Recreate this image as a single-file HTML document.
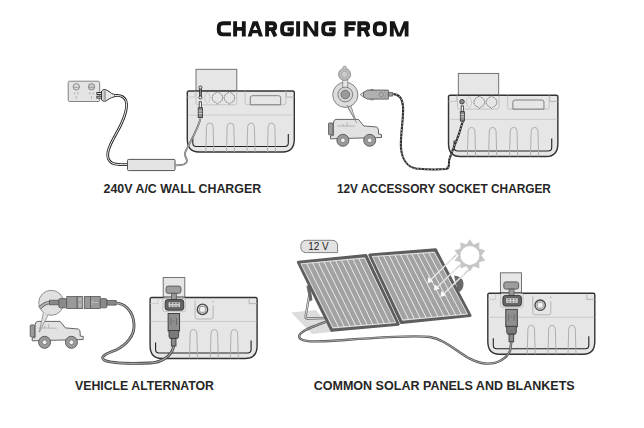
<!DOCTYPE html>
<html><head><meta charset="utf-8">
<style>
html,body{margin:0;padding:0;background:#fff;width:644px;height:428px;overflow:hidden}
svg{display:block}
.t{font-family:"Liberation Sans",sans-serif;font-weight:bold}
</style></head>
<body>
<svg width="644" height="428" viewBox="0 0 644 428">
<defs>
  <!-- common battery box body, origin at box top-left -->
  <g id="body">
    <path d="M0.5,1.5 Q0.5,0 2,0 L106,0 Q107.5,0 107.5,1.5 L107.5,48 Q107.5,61 96,61 L12,61 Q0.5,61 0.5,48 Z" fill="#e6e6e7" stroke="#333" stroke-width="1.4"/>
    <line x1="1" y1="24" x2="107" y2="24" stroke="#c4c4c4" stroke-width="0.8"/>
    <path d="M6,45 L6,52 Q6,55.5 9.5,55.5 L98,55.5 Q101.5,55.5 101.5,52 L101.5,43" fill="none" stroke="#222" stroke-width="1.1"/>
    <path d="M99.5,0.5 L99.5,6.1 L107.5,6.1" fill="none" stroke="#aaa" stroke-width="0.8"/>
    <path d="M0.5,6.1 L8.3,6.1 L8.3,0.5" fill="none" stroke="#c4c4c4" stroke-width="0.8"/>
  </g>
  <g id="slots">
    <path d="M-4,29 L-3.3,3.5 Q-3,0 0,0 Q3,0 3.3,3.5 L4,29" fill="none" stroke="#a8a8a8" stroke-width="0.9"/>
  </g>
  <g id="sock">
    <path d="M0,-6.3 L1.6,-4.8 A5,5 0 0 1 1.6,4.8 L0,6.3 L-1.6,4.8 A5,5 0 0 1 -1.6,-4.8 Z" fill="none" stroke="#6a6a6a" stroke-width="0.9" stroke-dasharray="1.3 0.5"/>
  </g>
  <g id="upper">
    <use href="#body"/>
    <use href="#slots" x="23" y="32"/>
    <use href="#slots" x="43.7" y="32"/>
    <use href="#slots" x="64.2" y="32"/>
    <use href="#slots" x="84.7" y="32"/>
    <path d="M9.3,0.2 L9.3,12 Q9.3,13.8 11.1,13.8 L48.1,13.8 Q49.9,13.8 49.9,12 L49.9,0.2" fill="none" stroke="#bdbdbd" stroke-width="0.8"/>
    <path d="M20.5,1.3 L22.2,3 Q24,6.8 22.2,10.6 L20.5,12.3 L18.8,10.6 Q17,6.8 18.8,3 Z" fill="none" stroke="#b0b0b0" stroke-width="0.8" stroke-dasharray="1.2 0.5"/>
    <use href="#sock" x="30.6" y="6.8"/>
    <use href="#sock" x="42.6" y="6.8"/>
    <path d="M58.3,0.2 L58.3,12 Q58.3,13.8 60.1,13.8 L97.2,13.8 Q99,13.8 99,12 L99,0.2" fill="none" stroke="#bdbdbd" stroke-width="0.8"/>
    <path d="M63.5,13.8 L63.5,6.8 Q63.5,4.7 65.6,4.7 L91.8,4.7 Q93.9,4.7 93.9,6.8 L93.9,13.8 Z" fill="none" stroke="#777" stroke-width="0.9"/>
  </g>
  <g id="lower">
    <use href="#body"/>
    <use href="#slots" x="43.9" y="32"/>
    <use href="#slots" x="64.7" y="32"/>
    <use href="#slots" x="84.7" y="32"/>
    <rect x="13.3" y="0.1" width="22.4" height="14" rx="1.5" fill="none" stroke="#bbb" stroke-width="0.8"/>
    <path d="M45.5,3 L45.5,19.5 Q45.5,21.5 47.5,21.5 L61.5,21.5 Q63.5,21.5 63.5,19.5 L63.5,8 M63.5,5 L63.5,3" fill="none" stroke="#aaa" stroke-width="0.8"/>
  </g>
</defs>

<!-- TITLE -->
<g id="title"><path d="M230.9,23.2 L223.0,23.2 Q218.8,23.2 218.8,27.4 L218.8,30.2 Q218.8,34.4 223.0,34.4 L230.9,34.4 M235.1,21.3 L235.1,36.4 M243.8,21.3 L243.8,36.4 M235.1,28.9 L243.8,28.9 M267.1,36.4 L267.1,23.2 L272.0,23.2 Q275.2,23.2 275.2,26.4 L275.2,26.4 Q275.2,29.1 272.0,29.1 L267.1,29.1 M272.0,29.1 L275.5,36.4 M293.8,23.2 L286.3,23.2 Q282.1,23.2 282.1,27.4 L282.1,30.2 Q282.1,34.4 286.3,34.4 L289.9,34.4 Q291.9,34.4 291.9,32.4 L291.9,29.2 L287.5,29.2 M298.1,21.3 L298.1,36.4 M335.6,23.2 L327.4,23.2 Q323.2,23.2 323.2,27.4 L323.2,30.2 Q323.2,34.4 327.4,34.4 L331.7,34.4 Q333.7,34.4 333.7,32.4 L333.7,29.2 L329.0,29.2 M346.4,36.4 L346.4,23.2 L355.8,23.2 M346.4,28.9 L354.6,28.9 M359.3,36.4 L359.3,23.2 L365.0,23.2 Q368.2,23.2 368.2,26.4 L368.2,26.4 Q368.2,29.1 365.0,29.1 L359.3,29.1 M365.0,29.1 L368.5,36.4 M378.9,23.2 L380.7,23.2 Q384.9,23.2 384.9,27.4 L384.9,30.2 Q384.9,34.4 380.7,34.4 L378.9,34.4 Q374.8,34.4 374.8,30.2 L374.8,27.4 Q374.8,23.2 378.9,23.2 Z" fill="none" stroke="#161616" stroke-width="3.9" stroke-linejoin="miter"/><path d="M247.6,36.4 L252.7,21.3 L257.9,21.3 L262.9,36.4 L258.9,36.4 L257.9,33.2 L252.6,33.2 L251.6,36.4 Z M255.2,25.3 L257.6,30.0 L252.9,30.0 Z M303.5,36.4 L303.5,21.3 L307.5,21.3 L314.4,31.4 L314.4,21.3 L318.2,21.3 L318.2,36.4 L314.2,36.4 L307.3,26.3 L307.3,36.4 Z M389.9,36.4 L389.9,21.3 L394.5,21.3 L399.2,33.2 L403.9,21.3 L408.5,21.3 L408.5,36.4 L404.7,36.4 L404.7,27.8 L401.2,36.4 L397.2,36.4 L393.7,27.8 L393.7,36.4 Z" fill="#161616" fill-rule="evenodd"/></g>

<!-- CAPTIONS -->
<text class="t" x="103.6" y="193.1" font-size="12.5" textLength="157.5" lengthAdjust="spacingAndGlyphs" fill="#262626">240V A/C WALL CHARGER</text>
<text class="t" x="336.9" y="193.1" font-size="12.5" textLength="214" lengthAdjust="spacingAndGlyphs" fill="#262626">12V ACCESSORY SOCKET CHARGER</text>
<text class="t" x="75" y="390" font-size="12.5" textLength="139" lengthAdjust="spacingAndGlyphs" fill="#262626">VEHICLE ALTERNATOR</text>
<text class="t" x="313.7" y="390" font-size="12.5" textLength="261" lengthAdjust="spacingAndGlyphs" fill="#262626">COMMON SOLAR PANELS AND BLANKETS</text>

<!-- ============ SECTION 1: WALL CHARGER ============ -->
<g>
  <!-- outlet -->
  <rect x="68.2" y="81.2" width="31.5" height="20.3" rx="1.5" fill="#e4e4e4" stroke="#777" stroke-width="0.9"/>
  <circle cx="76.3" cy="86.8" r="3.2" fill="#ddd" stroke="#777" stroke-width="0.8"/>
  <circle cx="91.5" cy="86.8" r="3.2" fill="#ccc" stroke="#777" stroke-width="0.8"/>
  <path d="M73.3,87.3 L79.3,87.3 M88.5,87.3 L94.5,87.3" stroke="#888" stroke-width="0.7"/>
  <g stroke="#888" stroke-width="0.7">
    <line x1="74.6" y1="92.5" x2="74.6" y2="94.3"/><line x1="78" y1="92.5" x2="78" y2="94.3"/><line x1="76.3" y1="96.5" x2="76.3" y2="98.5"/>
    <line x1="89.8" y1="92.5" x2="89.8" y2="94.3"/><line x1="93.2" y1="92.5" x2="93.2" y2="94.3"/><line x1="91.5" y1="96.5" x2="91.5" y2="98.5"/>
  </g>
  <!-- plug -->
  <g stroke="#222" stroke-width="0.9" fill="#e8e8e8">
    <rect x="96.9" y="92.5" width="5" height="1.9"/>
    <rect x="96.9" y="96.2" width="5" height="1.9"/>
    <path d="M101.6,91 Q102.5,89.3 105.5,89.5 L109,91.5 Q111,93.5 114.5,94.6 L115.3,96.5 Q111,97.5 109,99 L105.5,101.2 Q102.5,101.5 101.6,100 Z"/>
    <rect x="103.5" y="90.5" width="2.5" height="10.3" fill="#a8a8a8" stroke="none"/>
  </g>
  <!-- cable plug->adapter -->
  <path d="M114.5,95.6 C119,95 124,96 126,101 C128,108 124,120 116,134 C108,148 104,158 112,163 C116,165 122,164.6 127.5,164.6" fill="none" stroke="#262626" stroke-width="2.7"/>
  <path d="M114.5,95.6 C119,95 124,96 126,101 C128,108 124,120 116,134 C108,148 104,158 112,163 C116,165 122,164.6 127.5,164.6" fill="none" stroke="#f2f2f2" stroke-width="1"/>
  <!-- adapter -->
  <rect x="127.5" y="159.4" width="47.5" height="11.2" rx="1" fill="#e4e4e5" stroke="#555" stroke-width="1"/>
  <!-- box 1 -->
  <rect x="196" y="69.3" width="40.8" height="21.7" fill="#e6e6e7" stroke="#666" stroke-width="0.9"/>
  <use href="#upper" x="186.8" y="91"/>
  <!-- thin cable adapter -> box -->
  <path d="M175,165.4 C181,165.4 187,165 187,161 C187,158 184,156 185,153 C187,147 197,132 200.5,118.5" fill="none" stroke="#555" stroke-width="1.8"/>
  <path d="M175,165.4 C181,165.4 187,165 187,161 C187,158 184,156 185,153 C187,147 197,132 200.5,118.5" fill="none" stroke="#ddd" stroke-width="0.7"/>

  <!-- dc connector box1 -->
  <g stroke="#333" stroke-width="0.8">
    <rect x="199.4" y="87" width="2" height="11" fill="#888"/>
    <circle cx="200.4" cy="87.5" r="1.6" fill="#ddd"/>
    <circle cx="200.4" cy="97.5" r="1.6" fill="#ddd"/>
    <rect x="199.2" y="101.8" width="2.3" height="6" fill="#f4f4f4"/>
    <rect x="198.2" y="107.8" width="4.4" height="9.8" fill="#8a8a8a"/>
    <path d="M198.6,111 L202.2,111 M198.6,113.5 L202.2,113.5" stroke="#ddd" stroke-width="0.7"/>
  </g>
</g>

<!-- ============ SECTION 2: 12V SOCKET ============ -->
<g>
  <!-- socket bubble -->
  <path d="M347,106 L356.7,123 L350.5,105" fill="#ddd" stroke="#777" stroke-width="0.8"/>
  <circle cx="345.3" cy="94.8" r="12.6" fill="#dcdcdc" stroke="#777" stroke-width="0.9"/>
  <rect x="342.8" y="79" width="5" height="10" fill="#e4e4e4" stroke="#777" stroke-width="0.7"/>
  <circle cx="345.3" cy="94.5" r="7.4" fill="#d4d4d4" stroke="#777" stroke-width="0.9"/>
  <circle cx="345.3" cy="94.5" r="4.3" fill="#9a9a9a" stroke="#666" stroke-width="0.8"/>
  <circle cx="344.6" cy="74.4" r="6" fill="#bdbdbd" stroke="#888" stroke-width="0.9"/>
  <circle cx="344.6" cy="74.4" r="3.2" fill="#ccc" stroke="#999" stroke-width="0.6"/>
  <path d="M342.5,68.5 L343.5,66.3 L345.8,66.3 L346.8,68.5" fill="#ccc" stroke="#888" stroke-width="0.7"/>
  <!-- car -->
  <g id="car">
    <rect x="328.5" y="122.9" width="4.6" height="12" rx="0.8" fill="#9a9a9a" stroke="#555" stroke-width="0.8"/>
    <path d="M333.4,123 Q333.6,119.6 336,119.4 L358.5,119.4 L363.7,125.9 L376.5,127 Q378.5,127.5 378.5,131 L378.5,134 L381.5,134.5 L381.5,137.5 L330.5,138.8 L330.5,135.8 L333.4,135.6 Z" fill="#e2e2e3" stroke="#555" stroke-width="0.9"/>
    <path d="M337,126 L355,126.2 M347,122.5 L347,126 M343,124 L343,126" fill="none" stroke="#999" stroke-width="0.6"/>
    <circle cx="342.9" cy="140.3" r="6" fill="#9a9a9a" stroke="#555" stroke-width="0.9"/>
    <circle cx="342.9" cy="140.3" r="2.3" fill="#f2f2f2" stroke="#666" stroke-width="0.6"/>
    <circle cx="369.7" cy="140.3" r="6" fill="#9a9a9a" stroke="#555" stroke-width="0.9"/>
    <circle cx="369.7" cy="140.3" r="2.3" fill="#f2f2f2" stroke="#666" stroke-width="0.6"/>
  </g>
  <path d="M347,105 L356.7,123" stroke="#888" stroke-width="0.8"/>
  <!-- cig plug -->
  <path d="M360.1,94.6 L363.5,92 L363.5,97.2 Z" fill="#d4d4d4" stroke="#777" stroke-width="0.7"/>
  <path d="M363.5,92.3 L367.5,90.1 L388.3,90.1 L388.3,99.1 L367.5,99.1 L363.5,96.9 Z" fill="#b0b0b0" stroke="#5a5a5a" stroke-width="0.9"/>
  <rect x="370.5" y="89" width="3.2" height="1.2" fill="#777"/>
  <rect x="370.5" y="99" width="3.2" height="1.2" fill="#777"/>
  <circle cx="381.3" cy="94.6" r="2.2" fill="none" stroke="#777" stroke-width="0.7"/>
  <path d="M384.5,91 Q386.8,94.6 384.5,98.2" fill="none" stroke="#888" stroke-width="0.6"/>
  <rect x="388.3" y="92.3" width="4.3" height="3.8" fill="#999" stroke="#555" stroke-width="0.7"/>
  <!-- box 2 -->
  <rect x="458.3" y="73.4" width="40.4" height="21.9" fill="#e6e6e7" stroke="#666" stroke-width="0.9"/>
  <use href="#upper" transform="translate(448,95.3) scale(1.022,1.003)"/>
  <!-- cable -->
  <path d="M392.5,94 C397,94 402,96 403,106 C404,118 400,135 401,148 C402,160 408,167 416,168.5 C426,169.5 440,169.5 446,169 C450,168 449,163 449,160.8 C451,152 459,137 461,127 L463,121" fill="none" stroke="#262626" stroke-width="2.1"/>
  <path d="M392.5,94 C397,94 402,96 403,106 C404,118 400,135 401,148 C402,160 408,167 416,168.5 C426,169.5 440,169.5 446,169 C450,168 449,163 449,160.8 C451,152 459,137 461,127 L463,121" fill="none" stroke="#f0f0f0" stroke-width="0.7" stroke-dasharray="1.6 1.8"/>

  <g stroke="#333" stroke-width="0.8">
    <circle cx="462" cy="101.7" r="2.3" fill="#888"/>
    <rect x="461.2" y="105.9" width="2.3" height="5.8" fill="#f4f4f4"/>
    <rect x="460.3" y="111.7" width="4.2" height="9.3" fill="#8a8a8a"/>
    <path d="M460.7,114.5 L464.1,114.5 M460.7,117 L464.1,117" stroke="#ddd" stroke-width="0.7"/>
  </g>
</g>

<!-- ============ SECTION 3: ALTERNATOR ============ -->
<g>
  <g transform="translate(-298.3,202)">
    <use href="#car"/>
  </g>
  <path d="M43.5,312 L39.3,332.2 L48.3,314.5" fill="#e0e0e0" stroke="#888" stroke-width="0.8"/>
  <circle cx="51.2" cy="302.8" r="12.5" fill="#e0e0e1" stroke="#888" stroke-width="0.9"/>
  <path d="M43.6,313 L47.6,314.2" stroke="#e0e0e1" stroke-width="1.6"/>
  <!-- cable inside bubble -->
  <path d="M39.5,308 C43,304.5 46,302.5 50,302.5" fill="none" stroke="#555" stroke-width="3.6"/>
  <path d="M39.5,308 C43,304.5 46,302.5 50,302.5" fill="none" stroke="#b4b4b4" stroke-width="2"/>
  <!-- connectors -->
  <g stroke="#555" stroke-width="0.8">
    <rect x="49.5" y="300.2" width="9.3" height="4.6" fill="#888"/>
    <rect x="58.8" y="298.6" width="7.9" height="9.2" rx="1.5" fill="#8a8a8a"/>
    <rect x="66.7" y="296.6" width="10.5" height="11.9" fill="#999"/>
    <rect x="77.2" y="296.6" width="5.6" height="11.9" fill="#a6a6a6"/>
    <rect x="84.5" y="296.6" width="5.9" height="11.9" fill="#999"/>
    <rect x="90.4" y="296.6" width="9.9" height="11.9" fill="#999"/>
    <rect x="100.3" y="298.6" width="6.7" height="9.2" rx="1.5" fill="#8a8a8a"/>
    <rect x="107" y="300.5" width="9" height="4.6" fill="#888"/>
  </g>
  <path d="M79,300 L80,299 L81,300 M80,304 L80,306" stroke="#eee" stroke-width="0.6" fill="none"/>
  <path d="M93,302.5 L98,302.5 M92,300 L92,305" stroke="#ccc" stroke-width="0.7" fill="none"/>
  <!-- box 3 -->
  <rect x="163.2" y="277.5" width="21.6" height="19.6" fill="#e6e6e7" stroke="#666" stroke-width="0.9"/>
  <use href="#lower" x="149.6" y="297.5"/>
  <!-- cable to box -->
  <path d="M115,302.8 C124,303 133,310 134,324 C135,336 126,345 116,350 C105,354 100,357 104,360 C110,363.5 135,363.5 150,363 C160,362.6 172,357 173.7,346" fill="none" stroke="#444" stroke-width="2.8"/>
  <path d="M115,302.8 C124,303 133,310 134,324 C135,336 126,345 116,350 C105,354 100,357 104,360 C110,363.5 135,363.5 150,363 C160,362.6 172,357 173.7,346" fill="none" stroke="#a8a8a8" stroke-width="1.2"/>

  <g id="anderson">
    <rect x="166.1" y="286.1" width="14.8" height="7.2" rx="2" fill="#9d9d9d" stroke="#555" stroke-width="0.9"/>
    <rect x="171.4" y="293.3" width="4.9" height="6.3" fill="#999" stroke="#555" stroke-width="0.8"/>
    <rect x="165.2" y="299.6" width="18.5" height="10.6" rx="2.5" fill="#666" stroke="#333" stroke-width="0.9"/>
    <rect x="168.1" y="302" width="12.3" height="5.7" fill="#d0d0d0" stroke="#444" stroke-width="0.6"/>
    <path d="M170,303.5 L172,303.5 M173.3,303.5 L175.3,303.5 M176.6,303.5 L178.6,303.5 M170,306 L172,306 M173.3,306 L175.3,306 M176.6,306 L178.6,306" stroke="#555" stroke-width="0.8"/>
    <rect x="168.1" y="313.5" width="11.5" height="17.5" fill="#8f8f8f" stroke="#333" stroke-width="0.9"/>
    <path d="M169,330.5 L178.6,330.5 L178.6,336.5 L177.7,338.4 L169.9,338.4 L169,336.5 Z" fill="#7a7a7a" stroke="#333" stroke-width="0.8"/>
    <rect x="171.3" y="338.4" width="4.7" height="7.6" fill="#8a8a8a" stroke="#333" stroke-width="0.8"/>
    <path d="M171,318 L171,325 M176.5,318 L176.5,325 M173,321 L174.5,321" stroke="#555" stroke-width="0.6"/>
    <circle cx="202.5" cy="309.4" r="5.2" fill="#d8d8d8" stroke="#444" stroke-width="1.3"/>
    <rect x="199.6" y="306.5" width="5.8" height="5.8" rx="1.6" fill="#f2f2f2" stroke="#777" stroke-width="0.7"/>
  </g>
</g>

<!-- ============ SECTION 4: SOLAR ============ -->
<g>
  <!-- 12V label -->
  <path d="M306.5,240.3 L332,240.3 Q337.6,240.3 337.6,246 L337.6,252.6 L333,252.6 Q330,252.6 306.5,252.6 Q300.8,252.6 300.8,246.5 Q300.8,240.3 306.5,240.3 Z" fill="#e2e2e2" stroke="#666" stroke-width="0.8"/>
  <text x="308.2" y="250.3" font-size="10.5" style="font-family:'Liberation Sans',sans-serif" fill="#222" textLength="20.5" lengthAdjust="spacingAndGlyphs">12 V</text>
  <!-- shadow -->
  <path d="M291.2,312.4 L316,310 L333,331.8 L312,334 Z" fill="#dcdcdc"/>
  <!-- stand -->
  <path d="M309.8,292 L305.6,316.5 Q305.2,318.5 307.5,318.5 L325,318" fill="none" stroke="#666" stroke-width="2.3"/>
  <path d="M309.8,292 L305.6,316.5 Q305.2,318.5 307.5,318.5 L325,318" fill="none" stroke="#e8e8e8" stroke-width="0.9"/>
  <path d="M306.5,286 L310,284.5 L312.5,300 L309.5,301.5 Z" fill="#666"/>
  <!-- panel 2 -->
<path d="M454,275.5 Q462.5,276 463.5,283 Q464,290 458,292.5 Z" fill="#6a6a6a"/>
<path d="M369.8,255.0 L435.5,249.8 L470.0,315.5 L401.4,322.6 Z" fill="#a2a2a3" stroke="#5e5e5e" stroke-width="3" stroke-linejoin="round"/>
<path d="M372.3,256.5 L434.3,252.4 L467.5,314.0 L402.7,320.0 Z" fill="none" stroke="#f4f4f4" stroke-width="0.8"/>
<g stroke="#f4f4f4" stroke-width="0.9">
<line x1="377.9" y1="256.2" x2="408.6" y2="319.4"/>
<line x1="383.5" y1="255.8" x2="414.4" y2="318.9"/>
<line x1="389.2" y1="255.4" x2="420.3" y2="318.4"/>
<line x1="394.8" y1="255.0" x2="426.2" y2="317.8"/>
<line x1="400.5" y1="254.7" x2="432.1" y2="317.3"/>
<line x1="406.1" y1="254.3" x2="438.0" y2="316.7"/>
<line x1="411.7" y1="253.9" x2="443.9" y2="316.2"/>
<line x1="417.4" y1="253.6" x2="449.8" y2="315.7"/>
<line x1="423.0" y1="253.2" x2="455.7" y2="315.1"/>
<line x1="428.7" y1="252.8" x2="461.6" y2="314.6"/>
</g>
<!-- panel 1 -->
<path d="M298.4,262.3 L365.8,255.5 L398.2,324.2 L331.7,330.3 Z" fill="#a2a2a3" stroke="#5e5e5e" stroke-width="3" stroke-linejoin="round"/>
<path d="M300.9,263.8 L364.6,258.1 L395.7,322.7 L332.9,327.7 Z" fill="none" stroke="#f4f4f4" stroke-width="0.8"/>
<g stroke="#f4f4f4" stroke-width="0.9">
<line x1="306.7" y1="263.3" x2="338.6" y2="327.2"/>
<line x1="312.5" y1="262.8" x2="344.3" y2="326.7"/>
<line x1="318.2" y1="262.3" x2="350.0" y2="326.3"/>
<line x1="324.0" y1="261.8" x2="355.7" y2="325.8"/>
<line x1="329.8" y1="261.2" x2="361.5" y2="325.4"/>
<line x1="335.6" y1="260.7" x2="367.2" y2="324.9"/>
<line x1="341.4" y1="260.2" x2="372.9" y2="324.5"/>
<line x1="347.2" y1="259.7" x2="378.6" y2="324.0"/>
<line x1="353.0" y1="259.2" x2="384.3" y2="323.6"/>
<line x1="358.8" y1="258.7" x2="390.0" y2="323.1"/>
</g>
  <!-- sun -->
  <polygon points="469.9,239.2 473.5,244.5 479.4,242.3 479.2,248.6 485.3,250.4 481.4,255.4 485.3,260.4 479.2,262.2 479.4,268.5 473.5,266.3 469.9,271.6 466.3,266.3 460.4,268.5 460.6,262.2 454.5,260.4 458.4,255.4 454.5,250.4 460.6,248.6 460.4,242.3 466.3,244.5" fill="#c6c6c6"/>
  <circle cx="469.9" cy="255.4" r="10.2" fill="#fff" stroke="#c6c6c6" stroke-width="1.4"/>
  <!-- rays -->
  <g stroke="#d0d0d0" stroke-width="1.6" stroke-linecap="round">
    <line x1="456" y1="255" x2="429" y2="281.5"/>
    <line x1="460" y1="265" x2="435.5" y2="289"/>
    <line x1="468.5" y1="270" x2="442" y2="295.5"/>
  </g>
  <g stroke="#f8f8f8" stroke-width="0.8" stroke-linecap="round">
    <line x1="452" y1="259" x2="429" y2="281.5"/>
    <line x1="456" y1="269" x2="435.5" y2="289"/>
    <line x1="464" y1="274" x2="442" y2="295.5"/>
  </g>
  <g fill="#f8f8f8">
    <path d="M427.4,283.2 L428.4,277 L433.2,281.5 Z"/>
    <path d="M433.9,290.5 L434.9,284.3 L439.7,288.8 Z"/>
    <path d="M440.4,297 L441.4,290.8 L446.2,295.3 Z"/>
  </g>
  <!-- box 4 -->
  <rect x="500.4" y="272.8" width="21.1" height="19.9" fill="#e6e6e7" stroke="#666" stroke-width="0.9"/>
  <use href="#lower" x="487.3" y="293.3"/>
  <!-- cable -->
  <path d="M326,321.7 C315,326 302,330 299.5,335 C297,341.5 310,342 330,341 C360,339 410,334.5 430,337 C450,340 465,362 485,363.5 C498,364.5 507,358 510,351 L511.4,341.8" fill="none" stroke="#555" stroke-width="2.4"/>
  <path d="M326,321.7 C315,326 302,330 299.5,335 C297,341.5 310,342 330,341 C360,339 410,334.5 430,337 C450,340 465,362 485,363.5 C498,364.5 507,358 510,351 L511.4,341.8" fill="none" stroke="#bbb" stroke-width="0.8"/>

  <g transform="translate(337.7,-4.2)">
    <use href="#anderson"/>
  </g>
</g>
</svg>
</body></html>
